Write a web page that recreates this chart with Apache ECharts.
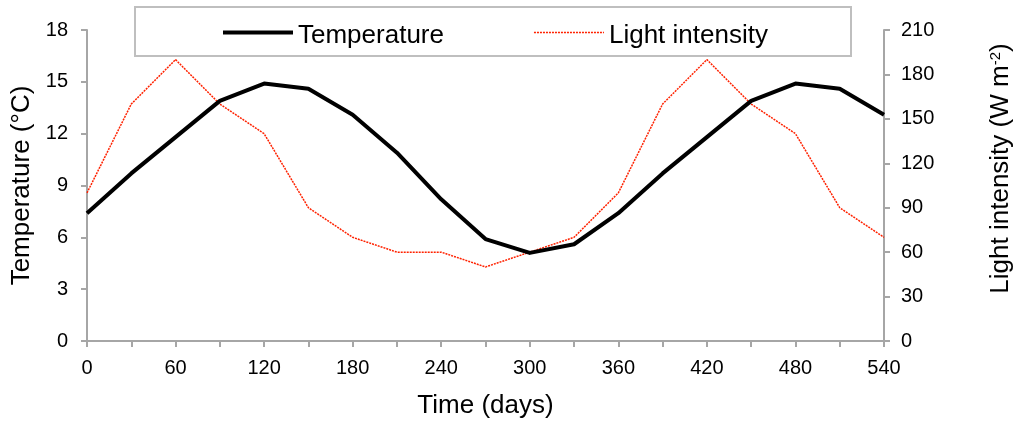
<!DOCTYPE html>
<html>
<head>
<meta charset="utf-8">
<script src="https://cdn.jsdelivr.net/npm/echarts@6/dist/echarts.min.js"></script>
<style>
  html, body { margin: 0; padding: 0; background: #fff; }
  #chart { width: 1022px; height: 428px; }
</style>
</head>
<body>
<div id="chart"></div>
<script>
// Days since start, sampled every 30 days
const days = [0, 30, 60, 90, 120, 150, 180, 210, 240, 270, 300, 330, 360, 390, 420, 450, 480, 510, 540];
// Mean temperature (°C)
const temperature = [7.4, 9.7, 11.8, 13.9, 14.9, 14.6, 13.1, 10.9, 8.2, 5.9, 5.1, 5.6, 7.4, 9.7, 11.8, 13.9, 14.9, 14.6, 13.1];
// Light intensity (W m-2)
const light = [100, 160, 190, 160, 140, 90, 70, 60, 60, 50, 60, 70, 100, 160, 190, 160, 140, 90, 70];

const xTicks = { min: 0, max: 540, interval: 30, labelEvery: 60 };
const leftTicks = { min: 0, max: 18, interval: 3 };
const rightTicks = { min: 0, max: 210, interval: 30 };

const FONT = 'Liberation Sans, Arial, sans-serif';
const AXIS_GREY = '#a6a6a6';
const RED = '#ff2200';
const TICK_FS = 20;
const TITLE_FS = 26;

const tempStyle = { color: '#000', width: 4 };
const lightStyle = { color: RED, width: 1.5, dash: [2, 1] };

// Legend box and sample lines
const legendBox = { x: 135, y: 7, width: 716, height: 49 };
const legendLeft = 218;
const legendIconW = 70;
const legendGap = 90;

const chart = echarts.init(document.getElementById('chart'), null, { renderer: 'canvas' });

const axisLineStyle = { lineStyle: { color: AXIS_GREY, width: 2 } };
const tickStyle = { show: true, length: 6, lineStyle: { color: AXIS_GREY, width: 2 } };

chart.setOption({
  animation: false,
  backgroundColor: '#fff',
  textStyle: { fontFamily: FONT },
  grid: { left: 87, right: 133, top: 30, bottom: 87, containLabel: false },
  legend: {
    z: 6,
    left: legendLeft,
    top: 18,
    itemWidth: legendIconW,
    itemHeight: 14,
    itemGap: legendGap,
    textStyle: { fontFamily: FONT, fontSize: TITLE_FS, color: '#000' },
    data: [
      { name: 'Temperature', icon: 'rect', itemStyle: { color: 'rgba(0,0,0,0)', borderWidth: 0 } },
      { name: 'Light intensity', icon: 'rect', itemStyle: { color: 'rgba(0,0,0,0)', borderWidth: 0 } }
    ]
  },
  xAxis: {
    type: 'value',
    min: xTicks.min,
    max: xTicks.max,
    interval: xTicks.interval,
    name: 'Time (days)',
    nameLocation: 'middle',
    nameGap: 52,
    nameTextStyle: { fontFamily: FONT, fontSize: TITLE_FS, color: '#000' },
    axisLine: axisLineStyle,
    axisTick: tickStyle,
    splitLine: { show: false },
    axisLabel: {
      fontFamily: FONT, fontSize: TICK_FS, color: '#000', margin: 17,
      formatter: v => (v % xTicks.labelEvery === 0 ? String(v) : '')
    }
  },
  yAxis: [{
    type: 'value',
    position: 'left',
    min: leftTicks.min,
    max: leftTicks.max,
    interval: leftTicks.interval,
    name: 'Temperature (°C)',
    nameLocation: 'middle',
    nameGap: 52,
    nameTextStyle: { fontFamily: FONT, fontSize: TITLE_FS, color: '#000' },
    axisLine: { show: true, ...axisLineStyle },
    axisTick: tickStyle,
    splitLine: { show: false },
    axisLabel: { fontFamily: FONT, fontSize: TICK_FS, color: '#000', margin: 19 }
  }, {
    type: 'value',
    position: 'right',
    min: rightTicks.min,
    max: rightTicks.max,
    interval: rightTicks.interval,
    name: '{n|Light intensity (W m}{s|-2}{n|)}',
    nameLocation: 'middle',
    nameGap: 104,
    nameRotate: 90,
    nameTextStyle: {
      fontFamily: FONT, fontSize: TITLE_FS, color: '#000',
      padding: [0, 0, 0, 34],
      rich: {
        n: { fontFamily: FONT, fontSize: TITLE_FS, color: '#000' },
        s: { fontFamily: FONT, fontSize: 15, color: '#000', verticalAlign: 'top', padding: [0, 0, 10, 0] }
      }
    },
    axisLine: { show: true, ...axisLineStyle },
    axisTick: tickStyle,
    splitLine: { show: false },
    axisLabel: { fontFamily: FONT, fontSize: TICK_FS, color: '#000', margin: 17 }
  }],
  series: [{
    name: 'Temperature',
    type: 'line',
    yAxisIndex: 0,
    data: days.map((d, i) => [d, temperature[i]]),
    symbol: 'none',
    z: 3,
    lineStyle: { color: tempStyle.color, width: tempStyle.width, join: 'round' },
    itemStyle: { color: tempStyle.color }
  }, {
    name: 'Light intensity',
    type: 'line',
    yAxisIndex: 1,
    data: days.map((d, i) => [d, light[i]]),
    symbol: 'none',
    z: 2,
    lineStyle: { color: lightStyle.color, width: lightStyle.width, type: lightStyle.dash },
    itemStyle: { color: lightStyle.color }
  }]
});

// Place the sample lines over the legend's own icon slots
function drawLegendSamples() {
  const legendView = chart.getViewOfComponentModel(chart.getModel().getComponent('legend'));
  let iconX = [legendLeft + 5, 535];
  try {
    const content = legendView.getContentGroup();
    iconX = content.children().map(g => g.x + legendView.group.x + content.x);
  } catch (e) { /* keep defaults */ }
  const cy = legendBox.y + legendBox.height / 2 + 1;
  const samples = [tempStyle, lightStyle];
  chart.setOption({
    graphic: [{
      type: 'rect',
      z: 5,
      shape: legendBox,
      style: { fill: '#fff', stroke: '#bfbfbf', lineWidth: 2 }
    }].concat(samples.map((s, i) => ({
      type: 'line',
      z: 7,
      shape: { x1: iconX[i], y1: cy, x2: iconX[i] + legendIconW, y2: cy },
      style: { stroke: s.color, lineWidth: s.width, lineDash: s.dash || null }
    })))
  });
}
drawLegendSamples();
</script>
</body>
</html>
